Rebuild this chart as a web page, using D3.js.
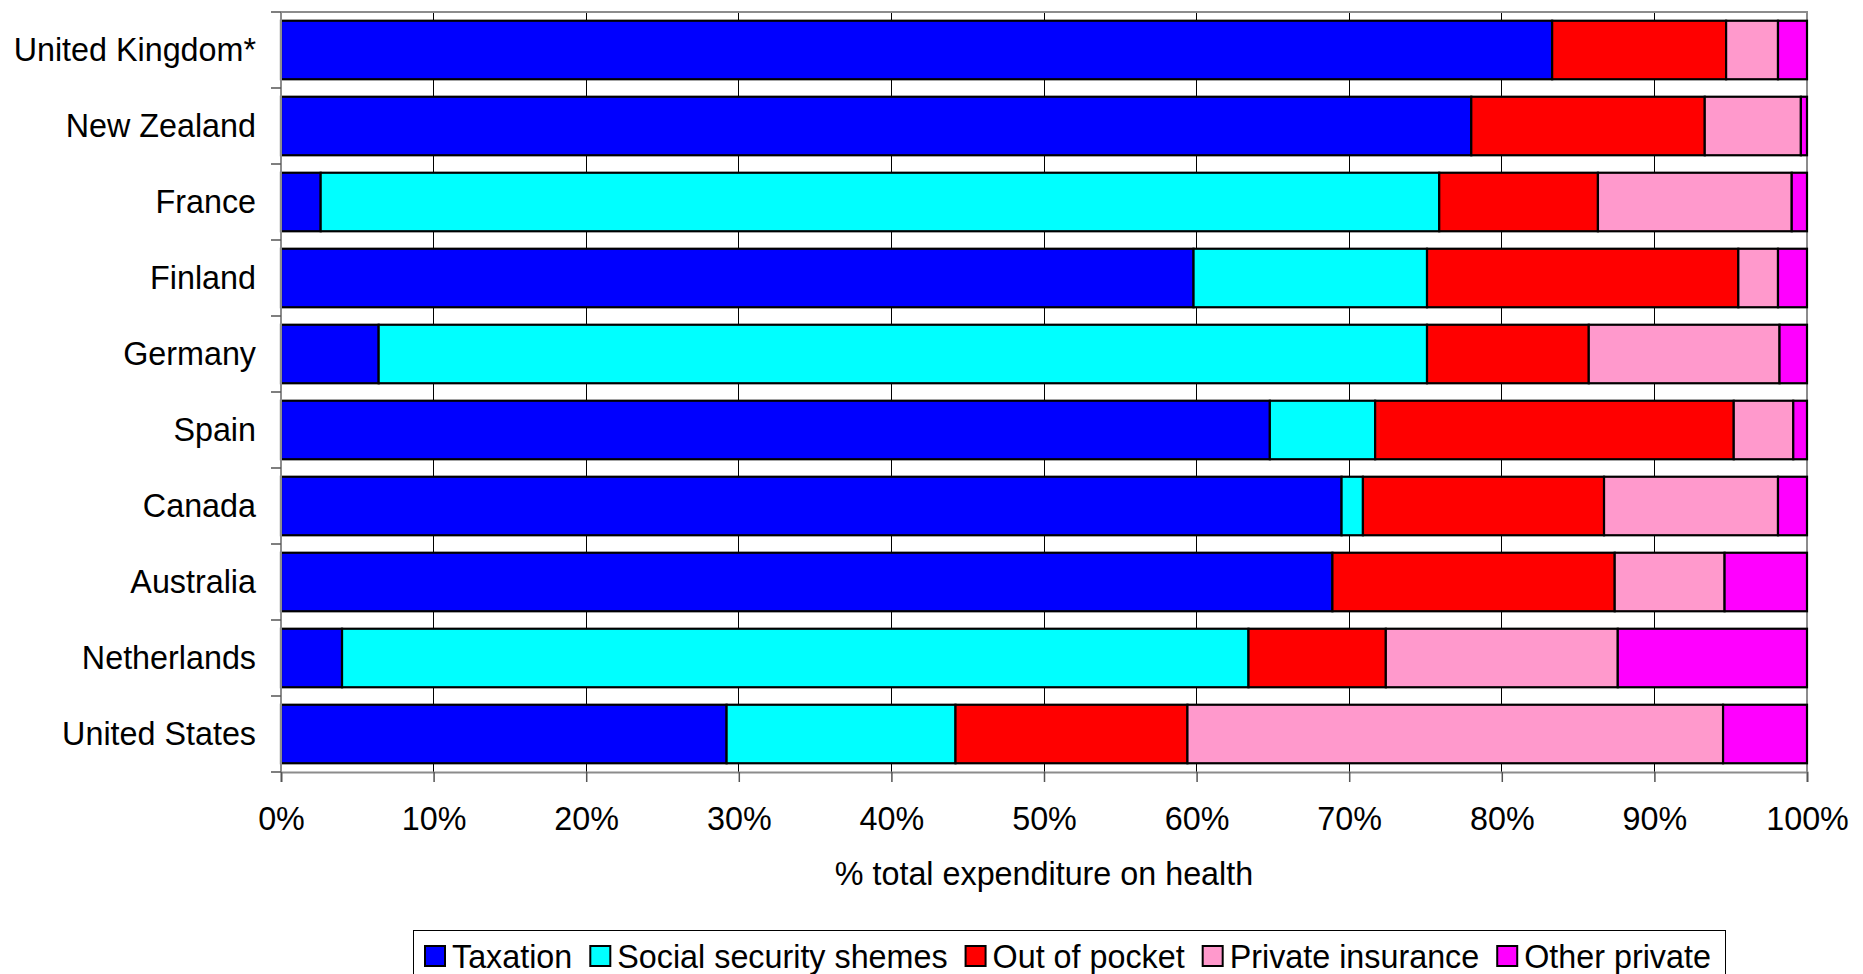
<!DOCTYPE html>
<html>
<head>
<meta charset="utf-8">
<script src="https://cdn.jsdelivr.net/npm/d3@7"></script>
<style>
  html, body { margin: 0; padding: 0; background: #fff; }
  svg text { font-family: "Liberation Sans", Arial, sans-serif; fill: #000; }
</style>
</head>
<body>
<svg id="chart" width="1863" height="974"></svg>
<script>
// Sources of health expenditure, share of total (%)
const countries = ["United Kingdom*", "New Zealand", "France", "Finland", "Germany",
                   "Spain", "Canada", "Australia", "Netherlands", "United States"];
const seriesNames = ["Taxation", "Social security shemes", "Out of pocket", "Private insurance", "Other private"];
const taxation       = [83.3, 78.0,  2.6, 59.8,  6.4, 64.8, 69.5, 68.9,  4.0, 29.2];
const socialSecurity = [ 0.0,  0.0, 73.3, 15.3, 68.7,  6.9,  1.4,  0.0, 59.4, 15.0];
const outOfPocket    = [11.4, 15.3, 10.4, 20.4, 10.6, 23.5, 15.8, 18.5,  9.0, 15.2];
const privateIns     = [ 3.4,  6.3, 12.7,  2.6, 12.5,  3.9, 11.4,  7.2, 15.2, 35.1];
const otherPrivate   = [ 1.9,  0.4,  1.0,  1.9,  1.8,  0.9,  1.9,  5.4, 12.4,  5.5];
const xTicks = [0, 10, 20, 30, 40, 50, 60, 70, 80, 90, 100];
const colors = ["#0000FF", "#00FFFF", "#FF0000", "#FF99CC", "#FF00FF"];

const seriesValues = [taxation, socialSecurity, outOfPocket, privateIns, otherPrivate];
const rows = countries.map((c, i) => {
  const r = { country: c };
  seriesNames.forEach((s, k) => { r[s] = seriesValues[k][i]; });
  return r;
});

const svg = d3.select("#chart");
const plotLeft = 281, plotRight = 1807, plotTop = 12, plotBottom = 772;
const FONT = 32.3;
const LEGEND_FONT = 32.3;

const x = d3.scaleLinear().domain([0, 100]).range([plotLeft, plotRight]);
const y = d3.scaleBand().domain(countries).range([plotTop, plotBottom]).paddingInner(0.23).paddingOuter(0.115);

// vertical gridlines
svg.append("g").selectAll("line")
  .data(xTicks.slice(1, -1))
  .join("line")
  .attr("x1", d => x(d)).attr("x2", d => x(d))
  .attr("y1", plotTop).attr("y2", plotBottom)
  .attr("stroke", "#000").attr("stroke-width", 1).attr("shape-rendering", "crispEdges");

// plot border (top and right)
svg.append("path")
  .attr("d", `M${plotLeft},${plotTop}H${plotRight}V${plotBottom}`)
  .attr("fill", "none").attr("stroke", "#8c8c8c").attr("stroke-width", 2);

// stacked bars
const stack = d3.stack().keys(seriesNames);
const layers = stack(rows);
svg.append("g").selectAll("g")
  .data(layers)
  .join("g")
  .attr("fill", (d, i) => colors[i])
  .selectAll("rect")
  .data(d => d.filter(p => p[1] - p[0] > 0))
  .join("rect")
  .attr("x", d => x(d[0]))
  .attr("width", d => x(d[1]) - x(d[0]))
  .attr("y", d => y(d.data.country))
  .attr("height", y.bandwidth())
  .attr("stroke", "#000").attr("stroke-width", 2.2);

// bottom axis
const xAxis = svg.append("g")
  .attr("transform", `translate(0,${plotBottom})`)
  .call(d3.axisBottom(x).tickValues(xTicks).tickFormat(d => d + "%").tickSize(10).tickPadding(25));
xAxis.select(".domain").attr("stroke", "#8c8c8c").attr("stroke-width", 2);
xAxis.selectAll(".tick line").attr("stroke", "#555").attr("stroke-width", 1.5);
xAxis.selectAll(".tick text").attr("font-size", FONT).attr("font-family", "Liberation Sans, Arial, sans-serif").attr("fill", "#000");

// left axis: ticks at category boundaries
const bounds = d3.range(countries.length + 1).map(i => plotTop + i * (plotBottom - plotTop) / countries.length);
svg.append("line")
  .attr("x1", plotLeft).attr("x2", plotLeft).attr("y1", plotTop).attr("y2", plotBottom)
  .attr("stroke", "#8c8c8c").attr("stroke-width", 2);
svg.append("g").selectAll("line")
  .data(bounds)
  .join("line")
  .attr("x1", plotLeft - 10).attr("x2", plotLeft)
  .attr("y1", d => d).attr("y2", d => d)
  .attr("stroke", "#555").attr("stroke-width", 1.5);

// category labels
svg.append("g").selectAll("text")
  .data(countries)
  .join("text")
  .attr("x", 256)
  .attr("y", d => y(d) + y.bandwidth() / 2)
  .attr("dy", "0.35em")
  .attr("text-anchor", "end")
  .attr("font-size", FONT)
  .text(d => d);

// axis title
svg.append("text")
  .attr("x", (plotLeft + plotRight) / 2)
  .attr("y", 885)
  .attr("text-anchor", "middle")
  .attr("font-size", FONT)
  .text("% total expenditure on health");

// legend
const legend = svg.append("g");
legend.append("rect")
  .attr("x", 413.5).attr("y", 930.5).attr("width", 1312).attr("height", 60)
  .attr("fill", "#fff").attr("stroke", "#000").attr("stroke-width", 1);
let lx = 425;
seriesNames.forEach((name, i) => {
  legend.append("rect")
    .attr("x", lx).attr("y", 946).attr("width", 20).attr("height", 20)
    .attr("fill", colors[i]).attr("stroke", "#000").attr("stroke-width", 2);
  const t = legend.append("text")
    .attr("x", lx + 27).attr("y", 968)
    .attr("font-size", LEGEND_FONT)
    .text(name);
  lx += 27 + t.node().getComputedTextLength() + 18;
});
</script>
</body>
</html>
